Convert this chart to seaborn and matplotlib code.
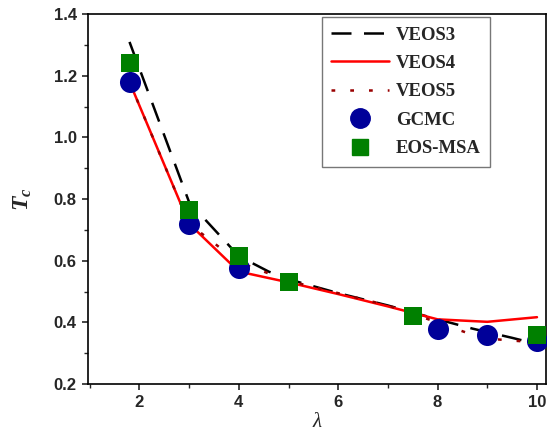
import numpy as np
import pandas as pd
import matplotlib
matplotlib.use("Agg")
import matplotlib.pyplot as plt
from matplotlib.lines import Line2D
from matplotlib.ticker import MultipleLocator, FormatStrFormatter
import seaborn as sns

# Critical temperature vs. well range lambda
veos3_lam = [1.8, 3.0, 4.0, 4.6, 5.0, 6.0, 7.0, 8.0, 8.7, 9.5, 10.0]
veos3_tc = [1.31, 0.79, 0.615, 0.565, 0.54, 0.495, 0.455, 0.41, 0.38, 0.35, 0.33]

veos4_lam = [1.8, 3.0, 4.0, 5.0, 6.0, 7.0, 8.0, 9.0, 10.0]
veos4_tc = [1.18, 0.72, 0.565, 0.53, 0.492, 0.452, 0.41, 0.402, 0.417]

veos5_lam = [1.8, 3.0, 4.0, 5.0, 6.0, 7.0, 8.0, 8.7, 9.2, 10.0]
veos5_tc = [1.18, 0.72, 0.595, 0.535, 0.495, 0.455, 0.40, 0.36, 0.345, 0.335]

gcmc_lam = [1.8, 3.0, 4.0, 8.0, 9.0, 10.0]
gcmc_tc = [1.18, 0.72, 0.575, 0.38, 0.36, 0.34]

msa_lam = [1.8, 3.0, 4.0, 5.0, 7.5, 10.0]
msa_tc = [1.24, 0.765, 0.615, 0.53, 0.42, 0.36]

sns.set_style("ticks")
plt.rcParams["mathtext.fontset"] = "custom"
plt.rcParams["mathtext.it"] = "Liberation Serif:italic:bold"
plt.rcParams["mathtext.rm"] = "Liberation Serif:bold"

fig = plt.figure(figsize=(5.52, 4.43), dpi=100)
ax = fig.add_axes([0.159, 0.133, 0.83, 0.835])

black, red, dred = "#000000", "#FF0000", "#990000"
blue, green = "#000099", "#008000"

sns.lineplot(x=veos3_lam, y=veos3_tc, ax=ax, color=black, lw=1.8,
             sort=False, zorder=2)
ax.lines[-1].set_dashes((8, 5))
sns.lineplot(x=veos4_lam, y=veos4_tc, ax=ax, color=red, lw=1.8,
             sort=False, zorder=3)
sns.lineplot(x=veos5_lam, y=veos5_tc, ax=ax, color=dred, lw=1.8,
             sort=False, zorder=4)
ax.lines[-1].set_dashes((1.5, 6))

sns.scatterplot(x=gcmc_lam, y=gcmc_tc, ax=ax, color=blue, marker="o",
                s=230, linewidth=0, zorder=5)
sns.scatterplot(x=msa_lam, y=msa_tc, ax=ax, color=green, marker="s",
                s=170, linewidth=0, zorder=6)

ax.set_xlim(0.96, 10.18)
ax.set_ylim(0.2, 1.4)
ax.xaxis.set_major_locator(MultipleLocator(2))
ax.xaxis.set_minor_locator(MultipleLocator(1))
ax.yaxis.set_major_locator(MultipleLocator(0.2))
ax.yaxis.set_minor_locator(MultipleLocator(0.1))
ax.yaxis.set_major_formatter(FormatStrFormatter("%.1f"))

for s in ax.spines.values():
    s.set_visible(True)
    s.set_linewidth(1.2)
    s.set_color("black")

ax.tick_params(which="major", direction="out", length=4, width=1.2,
               labelsize=12, top=False, right=False, pad=4)
ax.tick_params(which="minor", direction="out", length=3, width=1.0,
               top=False, right=False)
for lab in ax.get_xticklabels() + ax.get_yticklabels():
    lab.set_fontfamily("Liberation Sans")
    lab.set_fontweight("bold")

ax.set_xlabel("λ", fontsize=15, fontstyle="italic",
              fontfamily="Liberation Serif", labelpad=2)
ax.set_ylabel(r"$T_c$", fontsize=17, labelpad=14)

handles = [
    Line2D([], [], color=black, lw=1.8, dashes=(8, 5)),
    Line2D([], [], color=red, lw=1.8),
    Line2D([], [], color=dred, lw=1.8, dashes=(1.5, 6)),
    Line2D([], [], color=blue, marker="o", ls="none", markersize=14),
    Line2D([], [], color=green, marker="s", ls="none", markersize=12),
]
labels = ["VEOS3", "VEOS4", "VEOS5", "GCMC", "EOS-MSA"]
leg = ax.legend(handles, labels, loc="upper left",
                bbox_to_anchor=(0.511, 0.992), frameon=True, fancybox=False,
                edgecolor="#555555", handlelength=3.1, handletextpad=0.35,
                labelspacing=0.6, borderpad=0.5, borderaxespad=0,
                prop={"family": "Liberation Serif", "weight": "bold",
                      "size": 13.5})
leg.get_frame().set_linewidth(1.0)

fig.savefig("out.png", dpi=100)
